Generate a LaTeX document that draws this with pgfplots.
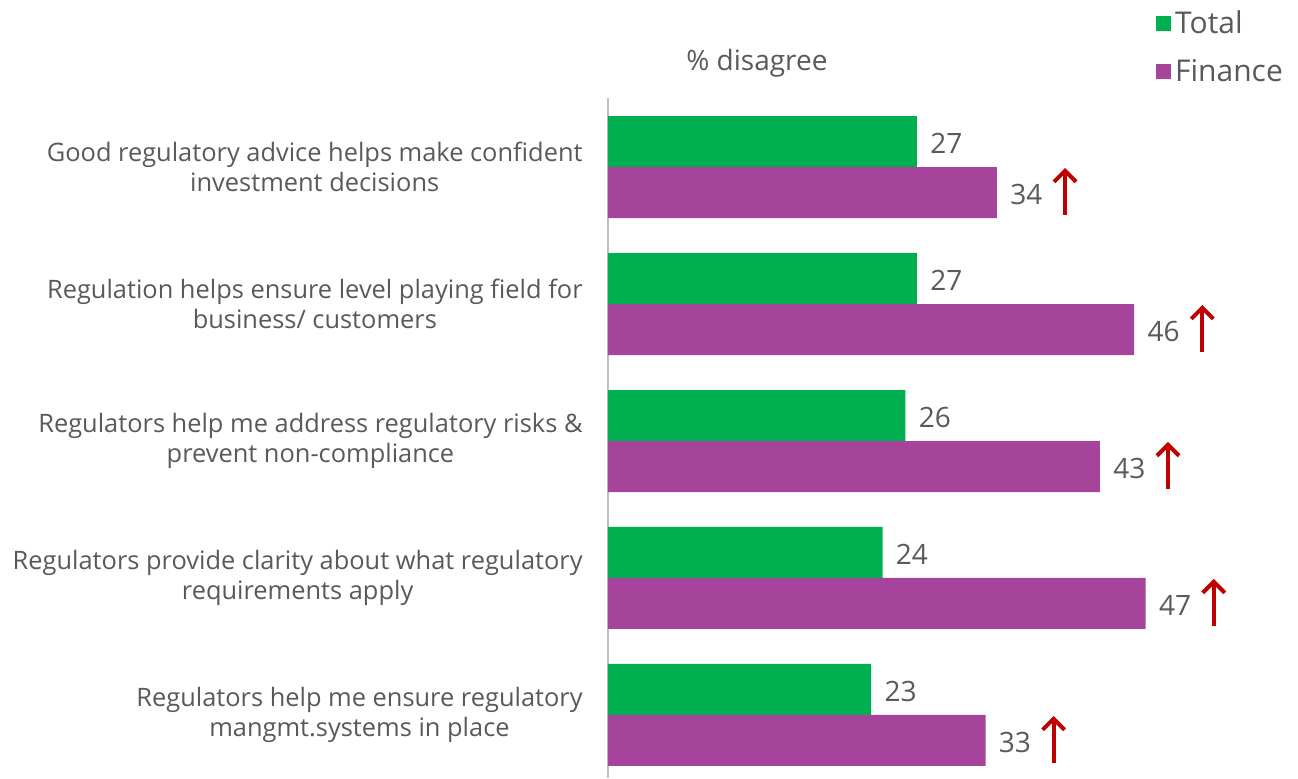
\documentclass[border=0pt]{standalone}
\usepackage{pgfplots}
\pgfplotsset{compat=1.18}
\usepackage{pgfplotstable}
\usepackage{fontspec}
\setmainfont{Open Sans}
\usetikzlibrary{arrows.meta}
\definecolor{cgreen}{RGB}{0,176,80}
\definecolor{cpurple}{RGB}{165,68,154}
\definecolor{ctext}{RGB}{89,89,89}
\definecolor{cred}{RGB}{192,0,0}
\definecolor{caxis}{RGB}{191,191,191}
\pgfplotstableread{
cat total finance
4 27 34
3 27 46
2 26 43
1 24 47
0 23 33
}\datatable
\begin{document}
\begin{tikzpicture}
\useasboundingbox (0,0) rectangle (649pt,389pt);
\begin{axis}[
  at={(304pt,0pt)}, anchor=south west,
  scale only axis, width=343.2pt, height=340pt,
  xmin=0, xmax=60, ymin=-0.46, ymax=4.504,
  clip=false,
  /pgf/number format/assume math mode=true,
  axis x line=none,
  axis y line*=left,
  y axis line style={draw=caxis, line width=0.8pt, -},
  ytick={0,1,2,3,4},
  yticklabels={
    {Regulators help me ensure regulatory\\mangmt.systems in place},
    {Regulators provide clarity about what regulatory\\requirements apply},
    {Regulators help me address regulatory risks \&\\prevent non-compliance},
    {Regulation helps ensure level playing field for\\business/ customers},
    {Good regulatory advice helps make confident\\investment decisions}},
  major tick length=0pt,
  yticklabel style={align=center, inner sep=0pt, xshift=-12.5pt, text=ctext, font=\fontsize{12.7}{15}\selectfont},
  title={\% disagree},
  title style={at={(rel axis cs:0.217,1.034)}, anchor=center, text=ctext, font=\fontsize{14}{16}\selectfont},
  legend style={at={(rel axis cs:0.798,1.135)}, anchor=north west, draw=none, fill=none,
    font=\fontsize{15}{17}\selectfont, text=ctext, row sep=7.5pt, inner sep=0pt,
    /tikz/every even column/.append style={column sep=5.5pt}},
  legend cell align=left,
]
\addplot[xbar, bar width=25.5pt, bar shift=12.75pt, fill=cgreen, draw=none,
  nodes near coords, every node near coord/.append style={anchor=west, inner sep=0pt, xshift=6.5pt, yshift=11.75pt, text=ctext, font=\fontsize{14}{16}\selectfont},
  legend image code/.code={\fill[cgreen] (0pt,-3.75pt) rectangle (7.5pt,3.75pt);}]
  table[x=total, y=cat]{\datatable};
\addlegendentry{Total}
\addplot[xbar, bar width=25.5pt, bar shift=-12.75pt, fill=cpurple, draw=none,
  nodes near coords, every node near coord/.append style={anchor=west, inner sep=0pt, xshift=6.5pt, yshift=-13.75pt, text=ctext, font=\fontsize{14}{16}\selectfont},
  legend image code/.code={\fill[cpurple] (0pt,-3.75pt) rectangle (7.5pt,3.75pt);}]
  table[x=finance, y=cat]{\datatable};
\addlegendentry{Finance}
\addplot[quiver={u=0, v=0.343}, draw=cred, line width=2pt,
  -{Straight Barb[length=5.5pt, width=11pt, line width=2pt]}, forget plot]
  table[x expr=\thisrow{finance}+5.95, y expr=\thisrow{cat}-0.35]{\datatable};
\end{axis}
\end{tikzpicture}
\end{document}
